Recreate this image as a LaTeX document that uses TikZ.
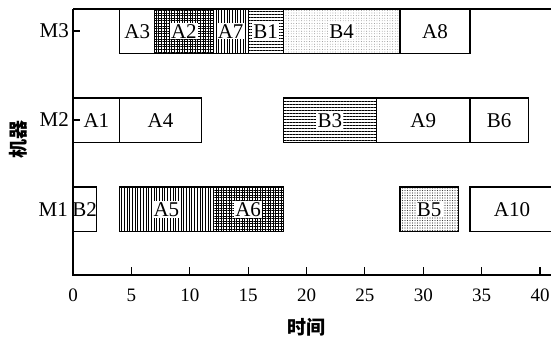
\documentclass[tikz,border=0pt]{standalone}
\usepackage{fontspec}
\setmainfont{Liberation Serif}
\newfontfamily\cjk{Noto Sans CJK SC}
\usetikzlibrary{patterns.meta}

% one Gantt bar: name, start, end, row top, fill style, label style, text
\newcommand\ganttbar[7]{%
  \draw[barline,#5] (#2,#4) rectangle (#3,#4+44.5);
  \node[lbl,#6] (#1) at ({(#2+#3)/2},#4+22.3) {#7};
}

\begin{document}
\begin{tikzpicture}[x=1pt,y=-1pt,
  axis/.style={line width=1.1pt,black},
  barline/.style={draw=black,line width=1.2pt},
  lbl/.style={font=\fontsize{21}{21}\selectfont,inner sep=1.2pt},
  wlbl/.style={lbl,fill=white},
  plain/.style={},
  vlines/.style={pattern={Lines[angle=90,distance=2.7pt,line width=0.5pt]}},
  hlines/.style={pattern={Lines[angle=0,distance=3pt,line width=0.55pt]}},
  grid/.style={pattern={Hatch[angle=0,distance=2.6pt,line width=0.6pt]}},
  lightdots/.style={pattern={Dots[distance=2.6pt,radius=0.45pt]},pattern color=black!50},
  darkdots/.style={pattern={Dots[distance=2.5pt,radius=0.55pt]},pattern color=black!75},
  ticklbl/.style={font=\fontsize{19}{19}\selectfont,inner sep=0pt},
  rowlbl/.style={font=\fontsize{21}{21}\selectfont,inner sep=0pt,anchor=east},
  axtitle/.style={font=\cjk\bfseries\fontsize{19}{19}\selectfont,inner sep=0pt}]
\useasboundingbox (0,0) rectangle (551,338);
\clip (0,0) rectangle (551,338);

% machine labels
\node[rowlbl] (m3) at (69,31) {M3};
\node[rowlbl] (m2) at (69,120) {M2};
\node[rowlbl] (m1) at (68,209.5) {M1};
\node[axtitle,rotate=90] (ylab) at (18,139) {机器};

\begin{scope}[shift={(73,0)},x=11.675pt]
  % frame and axes
  \draw[axis] (0,9) -- (42,9);
  \draw[axis] (0,9) -- (0,275) -- (42,275);
  \draw[axis] (0,31) -- (0.6,31);
  \draw[axis] (0,120) -- (0.6,120);
  \foreach \t in {5,10,...,40}{
    \draw[axis] (\t,275) -- (\t,267);
  }
  \foreach \t in {0,5,...,40}{
    \node[ticklbl] (tk\t) at (\t,295) {\t};
  }
  \node[axtitle] (xlab) at (20,327) {时间};

  % machine M3
  \ganttbar{a3}{4}{7}{9}{plain}{lbl}{A3}
  \ganttbar{a2}{7}{12}{9}{grid}{wlbl}{A2}
  \ganttbar{a7}{12}{15}{9}{vlines}{wlbl}{A7}
  \ganttbar{b1}{15}{18}{9}{hlines}{wlbl}{B1}
  \ganttbar{b4}{18}{28}{9}{lightdots}{wlbl}{B4}
  \ganttbar{a8}{28}{34}{9}{plain}{lbl}{A8}

  % machine M2
  \ganttbar{a1}{0}{4}{98}{plain}{lbl}{A1}
  \ganttbar{a4}{4}{11}{98}{plain}{lbl}{A4}
  \ganttbar{b3}{18}{26}{98}{hlines}{wlbl}{B3}
  \ganttbar{a9}{26}{34}{98}{plain}{lbl}{A9}
  \ganttbar{b6}{34}{39}{98}{plain}{lbl}{B6}

  % machine M1
  \ganttbar{b2}{0}{2}{187}{plain}{lbl}{B2}
  \ganttbar{a5}{4}{12}{187}{vlines}{wlbl}{A5}
  \ganttbar{a6}{12}{18}{187}{grid}{wlbl}{A6}
  \ganttbar{b5}{28}{33}{187}{darkdots}{wlbl}{B5}
  \ganttbar{a10}{34}{41.2}{187}{plain}{lbl}{A10}
\end{scope}
\end{tikzpicture}
\end{document}
